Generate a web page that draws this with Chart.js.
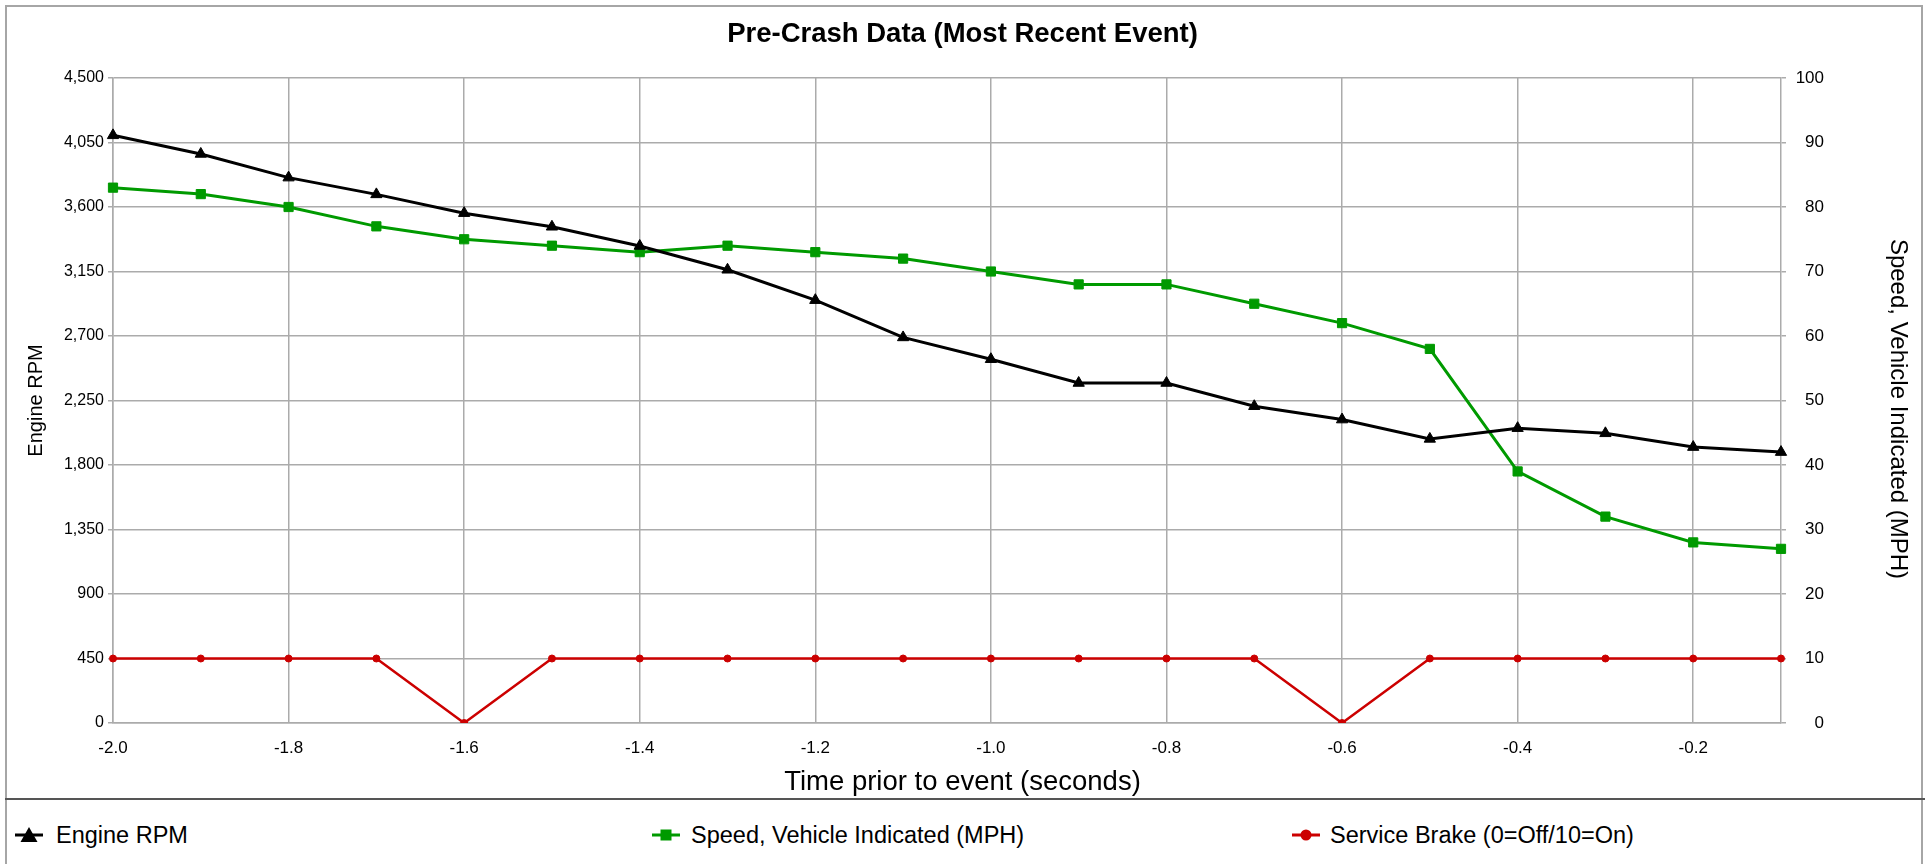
<!DOCTYPE html>
<html>
<head>
<meta charset="utf-8">
<title>Pre-Crash Data</title>
<script src="https://cdn.jsdelivr.net/npm/chart.js@4.4.0/dist/chart.umd.min.js"></script>
<style>
  body { margin: 0; background: #fff; font-family: 'Liberation Sans', Arial, sans-serif; }
  #wrap { position: relative; width: 1925px; height: 864px; overflow: hidden; background: #fff; }
  #frame { position: absolute; left: 5px; top: 5px; width: 1914px; height: 900px; border: 2px solid #a6a6a6; }
  #chart { position: absolute; left: 0; top: 0; }
  #divider { position: absolute; left: 5px; top: 798px; width: 1920px; height: 2px; background: #555; }
  .legend-mark { position: absolute; top: 825px; }
  .legend-text { position: absolute; top: 820px; height: 30px; line-height: 30px; font-size: 23.5px; color: #000; white-space: nowrap; }
</style>
</head>
<body>
<div id="wrap">
  <div id="frame"></div>
  <canvas id="chart" width="1925" height="800"></canvas>
  <div id="divider"></div>
  <div id="legend"></div>
</div>
<script>
'use strict';

// data
let timeLabels = ['-2.0', '-1.9', '-1.8', '-1.7', '-1.6', '-1.5', '-1.4', '-1.3', '-1.2', '-1.1',
  '-1.0', '-0.9', '-0.8', '-0.7', '-0.6', '-0.5', '-0.4', '-0.3', '-0.2', '-0.1'];
let timeTicks = ['-2.0', '-1.8', '-1.6', '-1.4', '-1.2', '-1.0', '-0.8', '-0.6', '-0.4', '-0.2'];

let engineRpm = [4100, 3970, 3805, 3688, 3557, 3462, 3328, 3162, 2950, 2690,
  2538, 2372, 2372, 2210, 2117, 1982, 2057, 2021, 1925, 1890];
let vehicleSpeed = [83, 82, 80, 77, 75, 74, 73, 74, 73, 72,
  70, 68, 68, 65, 62, 58, 39, 32, 28, 27];
let serviceBrake = [10, 10, 10, 10, 0, 10, 10, 10, 10, 10,
  10, 10, 10, 10, 0, 10, 10, 10, 10, 10];

let seriesNames = ['Engine RPM', 'Speed, Vehicle Indicated (MPH)', 'Service Brake (0=Off/10=On)'];
let seriesColors = ['#000000', '#009a00', '#cc0000'];

let chartTitle = 'Pre-Crash Data (Most Recent Event)';
let xTitle = 'Time prior to event (seconds)';
let leftTitle = 'Engine RPM';
let rightTitle = 'Speed, Vehicle Indicated (MPH)';

let gridGrey = '#ababab';
let fontFamily = "'Liberation Sans', Arial, sans-serif";

Chart.defaults.font.family = fontFamily;
Chart.defaults.color = '#000';

// legend below the divider, three columns
let legendBox = document.getElementById('legend');
let markX = [29, 666, 1306];
let textX = [56, 691, 1330];
let markShapes = [
  '<polygon points="14,2 22.5,17 5.5,17" fill="#000"/>',
  '<rect x="8.5" y="4.5" width="11" height="11" fill="#009a00"/>',
  '<circle cx="14" cy="10" r="5.5" fill="#cc0000"/>'
];

for (let i = 0; i < seriesNames.length; i++) {
  let mark = document.createElement('div');
  mark.className = 'legend-mark';
  mark.style.left = (markX[i] - 14) + 'px';
  mark.innerHTML = '<svg width="28" height="20"><line x1="0" y1="10" x2="28" y2="10" stroke="' +
    seriesColors[i] + '" stroke-width="3"/>' + markShapes[i] + '</svg>';
  legendBox.appendChild(mark);

  let txt = document.createElement('div');
  txt.className = 'legend-text';
  txt.style.left = textX[i] + 'px';
  txt.textContent = seriesNames[i];
  legendBox.appendChild(txt);
}

// x title is centred on the whole picture, right title sits a bit low
const axisTitles = {
  id: 'axisTitles',
  afterDraw(chart) {
    let ctx = chart.ctx;
    ctx.save();
    ctx.fillStyle = '#000';
    ctx.textAlign = 'center';
    ctx.textBaseline = 'middle';
    ctx.font = '27.5px ' + fontFamily;
    ctx.fillText(xTitle, chart.width / 2, 782);
    ctx.translate(1898, 409);
    ctx.rotate(Math.PI / 2);
    ctx.font = '24px ' + fontFamily;
    ctx.fillText(rightTitle, 0, 0);
    ctx.restore();
  }
};

const chartConfig = {
  type: 'line',
  data: {
    labels: timeLabels,
    datasets: [
      {
        label: seriesNames[0],
        data: engineRpm,
        yAxisID: 'y',
        borderColor: seriesColors[0],
        backgroundColor: seriesColors[0],
        borderWidth: 3,
        pointStyle: 'triangle',
        pointRadius: 6.5,
        pointBorderWidth: 1,
        tension: 0
      },
      {
        label: seriesNames[1],
        data: vehicleSpeed,
        yAxisID: 'y1',
        borderColor: seriesColors[1],
        backgroundColor: seriesColors[1],
        borderWidth: 3,
        pointStyle: 'rect',
        pointRadius: 6.5,
        pointBorderWidth: 1,
        tension: 0
      },
      {
        label: seriesNames[2],
        data: serviceBrake,
        yAxisID: 'y1',
        borderColor: seriesColors[2],
        backgroundColor: seriesColors[2],
        borderWidth: 2.5,
        pointStyle: 'circle',
        pointRadius: 3.5,
        pointBorderWidth: 1,
        tension: 0
      }
    ]
  },
  options: {
    responsive: false,
    animation: false,
    devicePixelRatio: 1,
    layout: { padding: 0 },
    plugins: {
      legend: { display: false },
      tooltip: { enabled: false },
      title: {
        display: true,
        text: chartTitle,
        color: '#000',
        font: { size: 27.5, weight: 'bold' },
        padding: { top: 17.5, bottom: 27.5 }
      }
    },
    scales: {
      x: {
        type: 'category',
        grid: {
          color: (ctx) => timeTicks.includes(timeLabels[ctx.index]) ? gridGrey : 'rgba(0,0,0,0)',
          lineWidth: 1.5,
          drawTicks: false
        },
        border: { color: gridGrey, width: 1.5 },
        ticks: {
          autoSkip: false,
          maxRotation: 0,
          padding: 15,
          font: { size: 17 },
          callback: function (val) {
            let lab = this.getLabelForValue(val);
            return timeTicks.includes(lab) ? lab : '';
          }
        },
        afterFit: (scale) => { scale.height = 77; }
      },
      y: {
        position: 'left',
        min: 0,
        max: 4500,
        grid: { color: gridGrey, lineWidth: 1.5, tickLength: 5 },
        border: { color: gridGrey, width: 1.5 },
        ticks: {
          stepSize: 450,
          padding: 4,
          font: { size: 16 },
          callback: (v) => v.toLocaleString('en-US')
        },
        title: {
          display: true,
          text: leftTitle,
          font: { size: 20 },
          padding: { top: 24, bottom: 0 }
        },
        afterFit: (scale) => { scale.width = 113; }
      },
      y1: {
        position: 'right',
        min: 0,
        max: 100,
        grid: { drawOnChartArea: false, color: gridGrey, lineWidth: 1.5, tickLength: 5 },
        border: { color: gridGrey, width: 1.5 },
        ticks: { stepSize: 10, padding: 10, crossAlign: 'far', font: { size: 17 } },
        afterFit: (scale) => { scale.width = 43; }
      },
      // empty strip to the right of the tick labels, room for the right title
      y2: {
        position: 'right',
        min: 0,
        max: 100,
        grid: { display: false },
        border: { display: false },
        ticks: { display: false },
        afterFit: (scale) => { scale.width = 101; }
      }
    }
  },
  plugins: [axisTitles]
};

new Chart(document.getElementById('chart'), chartConfig);
</script>
</body>
</html>
